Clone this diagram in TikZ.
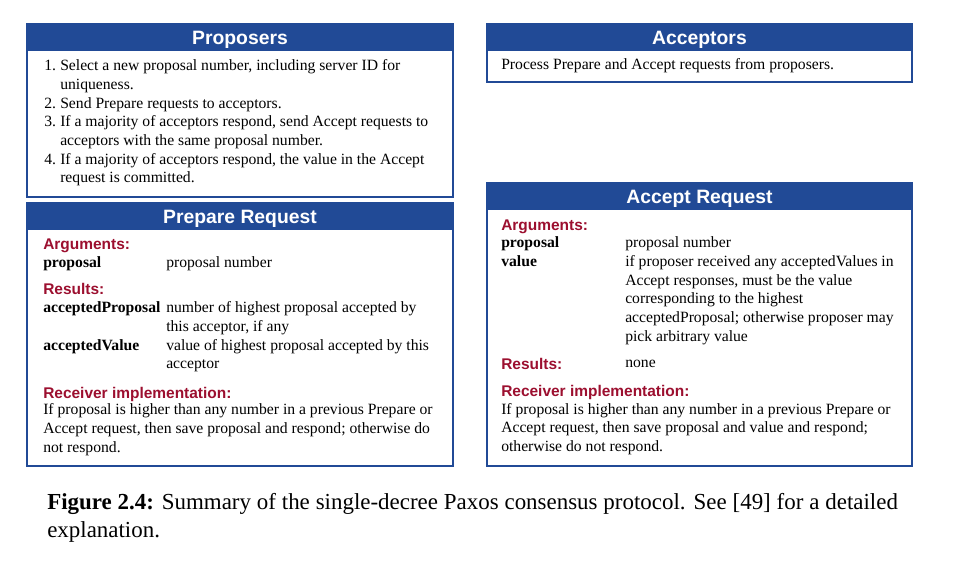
\documentclass[tikz,border=0pt]{standalone}
\usepackage{fontspec}
\setmainfont{Liberation Serif}
\setsansfont{Liberation Sans}
\usetikzlibrary{positioning}
\definecolor{pxBlue}{HTML}{214A96}
\definecolor{pxRed}{HTML}{9C0F2F}
\newcommand{\bodysize}{\fontsize{11.75}{14}\selectfont}
\tikzset{
  panel/.style={draw=pxBlue,line width=2.2pt,fill=white,inner sep=0pt},
  bar/.style={draw=pxBlue,line width=2.2pt,fill=pxBlue,text=white,inner sep=0pt,
              minimum height=19.5pt,text height=12pt,text depth=0pt,
              font=\sffamily\bfseries\fontsize{14.5}{16}\selectfont},
  head/.style={anchor=base west,inner sep=0pt,text=pxRed,
               font=\sffamily\bfseries\fontsize{11.6}{14}\selectfont},
  body/.style={anchor=base west,inner sep=0pt,font=\bodysize},
  capt/.style={anchor=base west,inner sep=0pt,font=\fontsize{17.2}{21}\selectfont},
}

\begin{document}
\begin{tikzpicture}[x=0.75pt,y=-0.75pt]
    \useasboundingbox (0,0) rectangle (958,563);
    % --- the four panels
    \node[panel,minimum width=319.5pt,minimum height=129.75pt] at (240,110.5) (prop) {};
    \node[panel,minimum width=318.75pt,minimum height=43.5pt]  at (699.5,53) (acc)  {};
    \node[panel,minimum width=319.5pt,minimum height=197.25pt] at (240,334.5) (prep) {};
    \node[panel,minimum width=318.75pt,minimum height=212.25pt] at (699.5,324.5) (areq) {};
    % --- title bars
    \node[bar,minimum width=319.5pt,anchor=north]  at (prop.north) (propBar) {Proposers};
    \node[bar,minimum width=318.75pt,anchor=north] at (acc.north)  (accBar)  {Acceptors};
    \node[bar,minimum width=319.5pt,anchor=north]  at (prep.north) (prepBar) {Prepare Request};
    \node[bar,minimum width=318.75pt,anchor=north] at (areq.north) (areqBar) {Accept Request};

    % --- proposers
    \node[body] at (44,71) (propSteps) {\begin{tabular}[t]{@{}p{12pt}@{}l@{}}
      1. & Select a new proposal number, including server ID for\\
         & uniqueness.\\
      2. & Send Prepare requests to acceptors.\\
      3. & If a majority of acceptors respond, send Accept requests to\\
         & acceptors with the same proposal number.\\
      4. & If a majority of acceptors respond, the value in the Accept\\
         & request is committed.
    \end{tabular}};
    % --- acceptors
    \node[body] at (501,70) (accText) {Process Prepare and Accept requests from proposers.};

    % --- prepare request
    \node[head] at (43,250) (prepArgs) {Arguments:};
    \node[body] at (43,268) (prepArgsT) {\begin{tabular}[t]{@{}p{92.25pt}@{}l@{}}
      \textbf{proposal} & proposal number
    \end{tabular}};
    \node[head] at (43,295) (prepRes) {Results:};
    \node[body] at (43,313) (prepResT) {\begin{tabular}[t]{@{}p{92.25pt}@{}l@{}}
      \textbf{acceptedProposal} & number of highest proposal accepted by\\
                                & this acceptor, if any\\
      \textbf{acceptedValue}    & value of highest proposal accepted by this\\
                                & acceptor
    \end{tabular}};
    \node[head] at (43,398) (prepRecv) {Receiver implementation:};
    \node[body] at (43,415) (prepRecvT) {\begin{tabular}[t]{@{}l@{}}
      If proposal is higher than any number in a previous Prepare or\\
      Accept request, then save proposal and respond; otherwise do\\
      not respond.
    \end{tabular}};

    % --- accept request
    \node[head] at (501,231) (areqArgs) {Arguments:};
    \node[body] at (501,248) (areqArgsT) {\begin{tabular}[t]{@{}p{93pt}@{}l@{}}
      \textbf{proposal} & proposal number\\
      \textbf{value}    & if proposer received any acceptedValues in\\
                        & Accept responses, must be the value\\
                        & corresponding to the highest\\
                        & acceptedProposal; otherwise proposer may\\
                        & pick arbitrary value
    \end{tabular}};
    \node[head] at (501,369) (areqRes) {Results:};
    \node[body] at (625,368) (areqResT) {none};
    \node[head] at (501,397) (areqRecv) {Receiver implementation:};
    \node[body] at (501,414) (areqRecvT) {\begin{tabular}[t]{@{}l@{}}
      If proposal is higher than any number in a previous Prepare or\\
      Accept request, then save proposal and value and respond;\\
      otherwise do not respond.
    \end{tabular}};

    % --- caption
    \node[capt] at (47,509) (caption) {\begin{tabular}[t]{@{}l@{}}
      \makebox[638pt][s]{\textbf{Figure 2.4:} Summary of the single-decree Paxos consensus protocol. See [49] for a detailed}\\
      explanation.
    \end{tabular}};
  \end{tikzpicture}
\end{document}
